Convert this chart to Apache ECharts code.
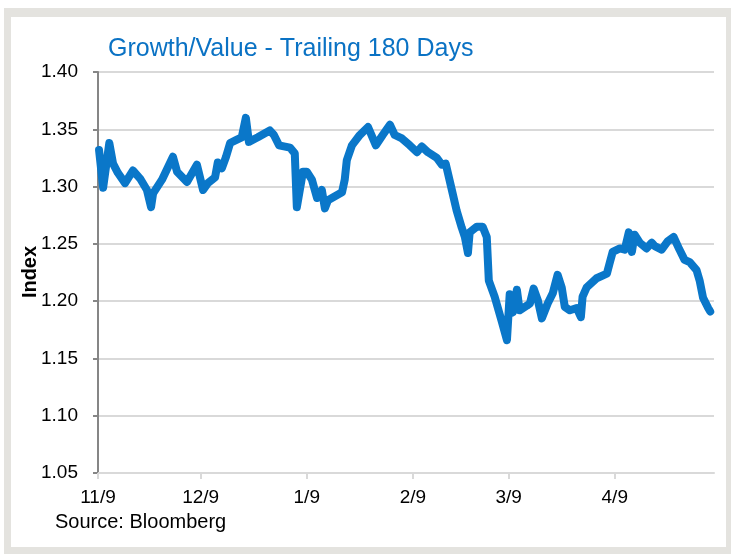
<!DOCTYPE html>
<html>
<head>
<meta charset="utf-8">
<script src="https://cdn.jsdelivr.net/npm/echarts@6/dist/echarts.min.js"></script>
<style>
  html, body { margin: 0; padding: 0; background: #ffffff; }
  #frame { position: absolute; left: 4px; top: 8px; width: 727px; height: 546px; background: #e4e3df; }
  #panel { position: absolute; left: 11px; top: 17px; width: 715px; height: 530px; background: #ffffff; }
  #chart { position: absolute; left: 0; top: 0; width: 731px; height: 554px; }
</style>
</head>
<body>
<div id="frame"></div>
<div id="panel"></div>
<div id="chart"></div>
<script>
// Growth/Value ratio, trailing 180 days (x = days since 11/9)
const dayIndex = [
  0.3, 1.5, 3.3, 4.4, 5.8, 7.9, 10.2, 12.3, 14.3, 15.5, 16.1, 18.7, 21.9, 23.1, 26.0, 28.9,
  30.7, 32.1, 34.2, 35.0, 36.2, 37.4, 38.6, 40.6, 42.0, 43.2, 44.1, 46.7, 50.2, 51.4, 52.9,
  56.1, 57.5, 58.1, 59.9, 61.0, 62.5, 64.0, 65.4, 66.3, 67.2, 71.3, 72.1, 72.7, 74.2, 76.5,
  78.9, 81.2, 83.2, 85.3, 86.7, 88.8, 91.1, 93.2, 94.6, 96.4, 99.0, 100.5, 101.6, 103.4,
  104.8, 106.3, 107.2, 108.1, 108.6, 110.7, 112.4, 113.6, 114.2, 115.9, 118.0, 119.5,
  120.3, 121.2, 122.4, 123.2, 125.3, 126.2, 127.3, 128.5, 129.7, 131.4, 132.9, 134.3,
  135.5, 136.4, 137.9, 139.9, 141.1, 141.6, 142.8, 145.7, 148.7, 149.5, 150.4, 152.5,
  153.9, 155.1, 156.0, 156.8, 158.3, 160.3, 161.8, 162.7, 164.7, 166.4, 168.2, 169.9,
  171.4, 172.9, 174.9, 175.8, 176.8, 178.3, 178.9
];
const ratio = [
  1.332, 1.299, 1.338, 1.320, 1.312, 1.303, 1.314, 1.307, 1.297, 1.282, 1.294, 1.306, 1.326, 1.313, 1.304, 1.319,
  1.297, 1.303, 1.308, 1.321, 1.316, 1.326, 1.338, 1.341, 1.343, 1.360, 1.339, 1.343, 1.349, 1.345, 1.336,
  1.334, 1.329, 1.282, 1.313, 1.313, 1.306, 1.290, 1.297, 1.281, 1.288, 1.295, 1.306, 1.323, 1.336, 1.345,
  1.352, 1.336, 1.345, 1.354, 1.345, 1.342, 1.336, 1.330, 1.335, 1.330, 1.325, 1.319, 1.320, 1.297,
  1.279, 1.264, 1.256, 1.242, 1.260, 1.265, 1.265, 1.256, 1.218, 1.204, 1.182, 1.166,
  1.206, 1.190, 1.210, 1.192, 1.196, 1.198, 1.211, 1.201, 1.185, 1.198, 1.207, 1.223,
  1.212, 1.195, 1.192, 1.194, 1.186, 1.204, 1.212, 1.220, 1.224, 1.233, 1.243, 1.246,
  1.245, 1.260, 1.243, 1.258, 1.251, 1.246, 1.251, 1.248, 1.245, 1.252, 1.256, 1.245,
  1.236, 1.234, 1.227, 1.218, 1.203, 1.194, 1.191
];
// Month markers on the date axis
const tickDays = [0, 30, 61, 92, 120, 151];
const tickLabels = ['11/9', '12/9', '1/9', '2/9', '3/9', '4/9'];

const FONT = 'Liberation Sans';
const chart = echarts.init(document.getElementById('chart'), null, { renderer: 'canvas' });
chart.setOption({
  backgroundColor: 'transparent',
  animation: false,
  title: {
    text: 'Growth/Value - Trailing 180 Days',
    left: 103, top: 32,
    textStyle: { color: '#0a72c4', fontFamily: FONT, fontSize: 25, fontWeight: 'normal' }
  },
  graphic: [{
    type: 'text', left: 55, top: 512,
    style: { text: 'Source: Bloomberg', fill: '#000', font: '20px "Liberation Sans"' }
  }, {
    // y-axis title, reading upward
    type: 'text', x: 30, y: 272, rotation: Math.PI / 2,
    style: {
      text: 'Index', fill: '#000', font: 'bold 20px "Liberation Sans"',
      align: 'center', verticalAlign: 'middle'
    }
  }],
  grid: { left: 98, right: 17, top: 72, bottom: 81 },
  xAxis: {
    type: 'value', min: 0, max: 180,
    axisLine: { lineStyle: { color: '#d9d9d9', width: 2 } },
    axisTick: { show: true, customValues: tickDays, length: 6, lineStyle: { color: '#d9d9d9', width: 2 } },
    axisLabel: {
      customValues: tickDays, margin: 15, color: '#000', fontFamily: FONT, fontSize: 19,
      formatter: v => tickLabels[tickDays.indexOf(v)]
    },
    splitLine: { show: false }
  },
  yAxis: {
    type: 'value', min: 1.05, max: 1.40, interval: 0.05,
    axisLine: { show: true, lineStyle: { color: '#868686', width: 2 } },
    axisTick: { show: true, length: 5, lineStyle: { color: '#868686', width: 2 } },
    axisLabel: { margin: 20, color: '#000', fontFamily: FONT, fontSize: 19, formatter: v => v.toFixed(2) },
    splitLine: { lineStyle: { color: '#d9d9d9', width: 2 } }
  },
  series: [{
    type: 'line',
    data: dayIndex.map((d, i) => [d, ratio[i]]),
    symbol: 'none',
    lineStyle: { color: '#0a77c9', width: 8, cap: 'round', join: 'round' }
  }]
});
</script>
</body>
</html>
